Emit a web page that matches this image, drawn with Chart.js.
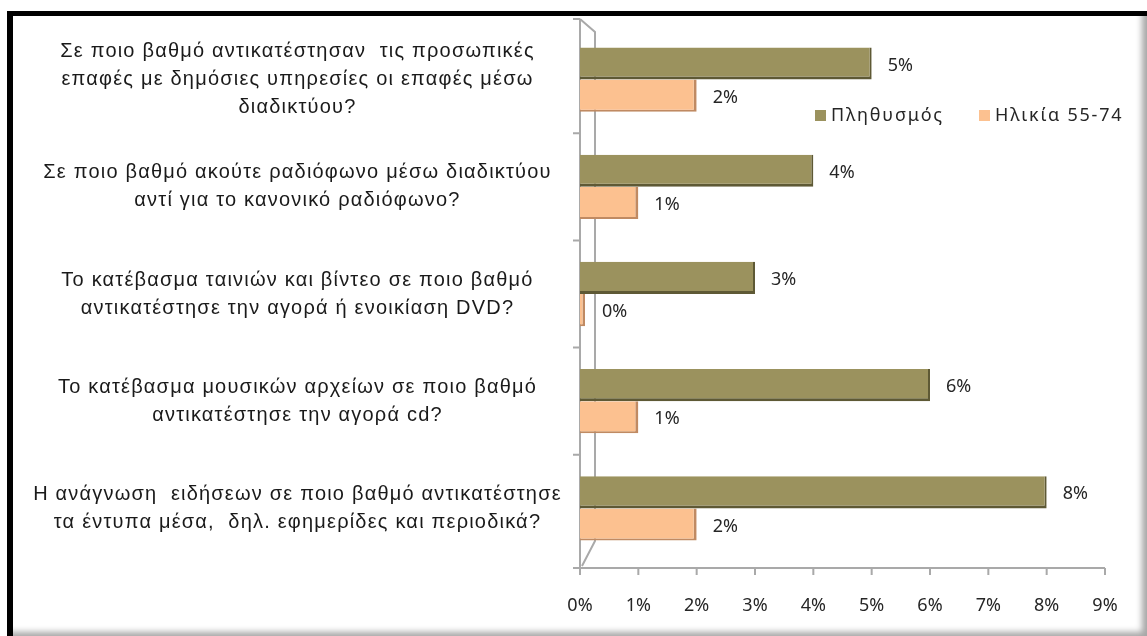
<!DOCTYPE html>
<html lang="el">
<head>
    <meta charset="UTF-8">
    <title>Αντικατάσταση μέσων από το διαδίκτυο</title>
    <script src="https://cdn.jsdelivr.net/npm/chart.js"></script>
    <style>
        html, body { margin: 0; padding: 0; background: #fff; }
        #wrap { position: relative; width: 1147px; height: 636px; overflow: hidden; }
        #chart { position: absolute; left: 0; top: 0; }
        #frame {
            position: absolute; left: 7px; top: 11px; right: 0; bottom: 0;
            border-top: 5px solid #000; border-left: 6px solid #000;
            box-shadow: inset -9px -8px 6px -4px rgba(0,0,0,0.35);
            pointer-events: none;
        }
    </style>
</head>
<body>
<div id="wrap">
    <canvas id="chart" width="1147" height="636"></canvas>
    <div id="frame"></div>
</div>
<script>
    // Questions (one line per array entry)
    const questions = [
        ['Σε ποιο βαθμό αντικατέστησαν  τις προσωπικές', 'επαφές με δημόσιες υπηρεσίες οι επαφές μέσω', 'διαδικτύου?'],
        ['Σε ποιο βαθμό ακούτε ραδιόφωνο μέσω διαδικτύου', 'αντί για το κανονικό ραδιόφωνο?'],
        ['Το κατέβασμα ταινιών και βίντεο σε ποιο βαθμό', 'αντικατέστησε την αγορά ή ενοικίαση DVD?'],
        ['Το κατέβασμα μουσικών αρχείων σε ποιο βαθμό', 'αντικατέστησε την αγορά cd?'],
        ['Η ανάγνωση  ειδήσεων σε ποιο βαθμό αντικατέστησε', 'τα έντυπα μέσα,  δηλ. εφημερίδες και περιοδικά?']
    ];
    const seriesNames = ['Πληθυσμός', 'Ηλικία 55-74'];
    const populationValues = [5, 4, 3, 6, 8];
    const age5574Values = [2, 1, 0, 1, 2];
    const percentTicks = [0, 1, 2, 3, 4, 5, 6, 7, 8, 9];

    const OLIVE = '#9b925e';
    const PEACH = '#fcc190';
    const WALL = '#a9a9a9';

    // Excel-style 3D walls and axis lines, drawn under the bars
    const wallPlugin = {
        id: 'walls',
        beforeDatasetsDraw(chart) {
            const { ctx, chartArea: a, scales: { x, y } } = chart;
            const depth = 15;
            const top = a.top - 7, bottom = a.bottom + 6;
            ctx.save();
            ctx.strokeStyle = WALL;
            ctx.lineWidth = 2;
            ctx.beginPath();
            // front edge and floor
            ctx.moveTo(a.left, top);
            ctx.lineTo(a.left, bottom);
            ctx.lineTo(x.getPixelForValue(percentTicks[percentTicks.length - 1]), bottom);
            // back wall edge
            ctx.moveTo(a.left, top);
            ctx.lineTo(a.left + depth, top + 13);
            ctx.lineTo(a.left + depth, bottom - 27);
            ctx.lineTo(a.left + 2, bottom - 2);
            // category separators
            ctx.moveTo(a.left - 7, top);
            ctx.lineTo(a.left, top);
            for (let i = 0; i < questions.length - 1; i++) {
                const py = (y.getPixelForTick(i) + y.getPixelForTick(i + 1)) / 2;
                ctx.moveTo(a.left - 7, py);
                ctx.lineTo(a.left, py);
            }
            ctx.moveTo(a.left - 7, bottom);
            ctx.lineTo(a.left, bottom);
            // value ticks
            percentTicks.forEach(v => {
                const px = x.getPixelForValue(v);
                ctx.moveTo(px, bottom);
                ctx.lineTo(px, bottom + 7);
            });
            ctx.stroke();
            ctx.restore();
        }
    };

    // Wider tracking for the question labels on the category axis
    const spacedLabels = {
        id: 'spacedLabels',
        afterLayout(chart) {
            const s = chart.scales.y;
            if (s._spaced) return;
            const orig = s.drawLabels;
            s.drawLabels = function (area) {
                chart.ctx.save();
                chart.ctx.letterSpacing = '1.2px';
                orig.call(this, area);
                chart.ctx.restore();
            };
            s._spaced = true;
        }
    };

    // Percentage labels to the right of each bar
    const valueLabels = {
        id: 'valueLabels',
        afterDatasetsDraw(chart) {
            const ctx = chart.ctx;
            ctx.save();
            ctx.font = '18px "Noto Sans", sans-serif';
            ctx.fillStyle = '#262626';
            ctx.textAlign = 'left';
            ctx.textBaseline = 'middle';
            chart.data.datasets.forEach((ds, di) => {
                chart.getDatasetMeta(di).data.forEach((bar, i) => {
                    const end = Math.max(bar.x, chart.chartArea.left + 6);
                    ctx.fillText(ds.data[i] + '%', end + 16, bar.y + 2);
                });
            });
            ctx.restore();
        }
    };

    // Legend sitting inside the plot, beside the first group
    const innerLegend = {
        id: 'innerLegend',
        afterDraw(chart) {
            const ctx = chart.ctx;
            const spots = [815, 979];
            const ly = 116;
            ctx.save();
            ctx.font = '18px "Noto Sans", sans-serif';
            ctx.letterSpacing = '1.8px';
            ctx.textBaseline = 'middle';
            chart.data.datasets.forEach((ds, i) => {
                ctx.fillStyle = ds.backgroundColor;
                ctx.fillRect(spots[i], ly - 6, 11, 11);
                ctx.fillStyle = '#262626';
                ctx.fillText(ds.label, spots[i] + 16, ly);
            });
            ctx.restore();
        }
    };

    new Chart(document.getElementById('chart'), {
        type: 'bar',
        data: {
            labels: questions,
            datasets: [
                {
                    label: seriesNames[0],
                    data: populationValues,
                    backgroundColor: OLIVE,
                    borderColor: '#5e5935',
                    borderWidth: { top: 0, left: 0, right: 2, bottom: 3 },
                    borderSkipped: false
                },
                {
                    label: seriesNames[1],
                    data: age5574Values,
                    backgroundColor: PEACH,
                    borderColor: '#c08a62',
                    borderWidth: { top: 0, left: 0, right: 3, bottom: 2 },
                    borderSkipped: false,
                    minBarLength: 5
                }
            ]
        },
        options: {
            indexAxis: 'y',
            responsive: false,
            animation: false,
            categoryPercentage: 0.6,
            barPercentage: 1,
            layout: { padding: { left: 0, right: 42, top: 26, bottom: 0 } },
            plugins: {
                legend: { display: false },
                tooltip: { enabled: false }
            },
            scales: {
                x: {
                    min: 0,
                    max: 9,
                    ticks: {
                        stepSize: 1,
                        padding: 33,
                        color: '#262626',
                        font: { family: '"Noto Sans", sans-serif', size: 18 },
                        callback: v => v + '%'
                    },
                    grid: { display: false, drawTicks: false },
                    border: { display: false },
                    afterFit: s => {
                        s.height = 74;
                        s.paddingLeft = 0;
                        s.paddingRight = 0;
                    }
                },
                y: {
                    ticks: {
                        autoSkip: false,
                        crossAlign: 'center',
                        padding: 47,
                        color: '#1a1a1a',
                        font: { family: '"Liberation Sans", Arial, sans-serif', size: 20, lineHeight: 1.4 }
                    },
                    grid: { display: false, drawTicks: false },
                    border: { display: false },
                    afterFit: s => {
                        s.width = 580;
                        s.paddingTop = 0;
                        s.paddingBottom = 0;
                    }
                }
            }
        },
        plugins: [wallPlugin, spacedLabels, valueLabels, innerLegend]
    });
</script>
</body>
</html>
